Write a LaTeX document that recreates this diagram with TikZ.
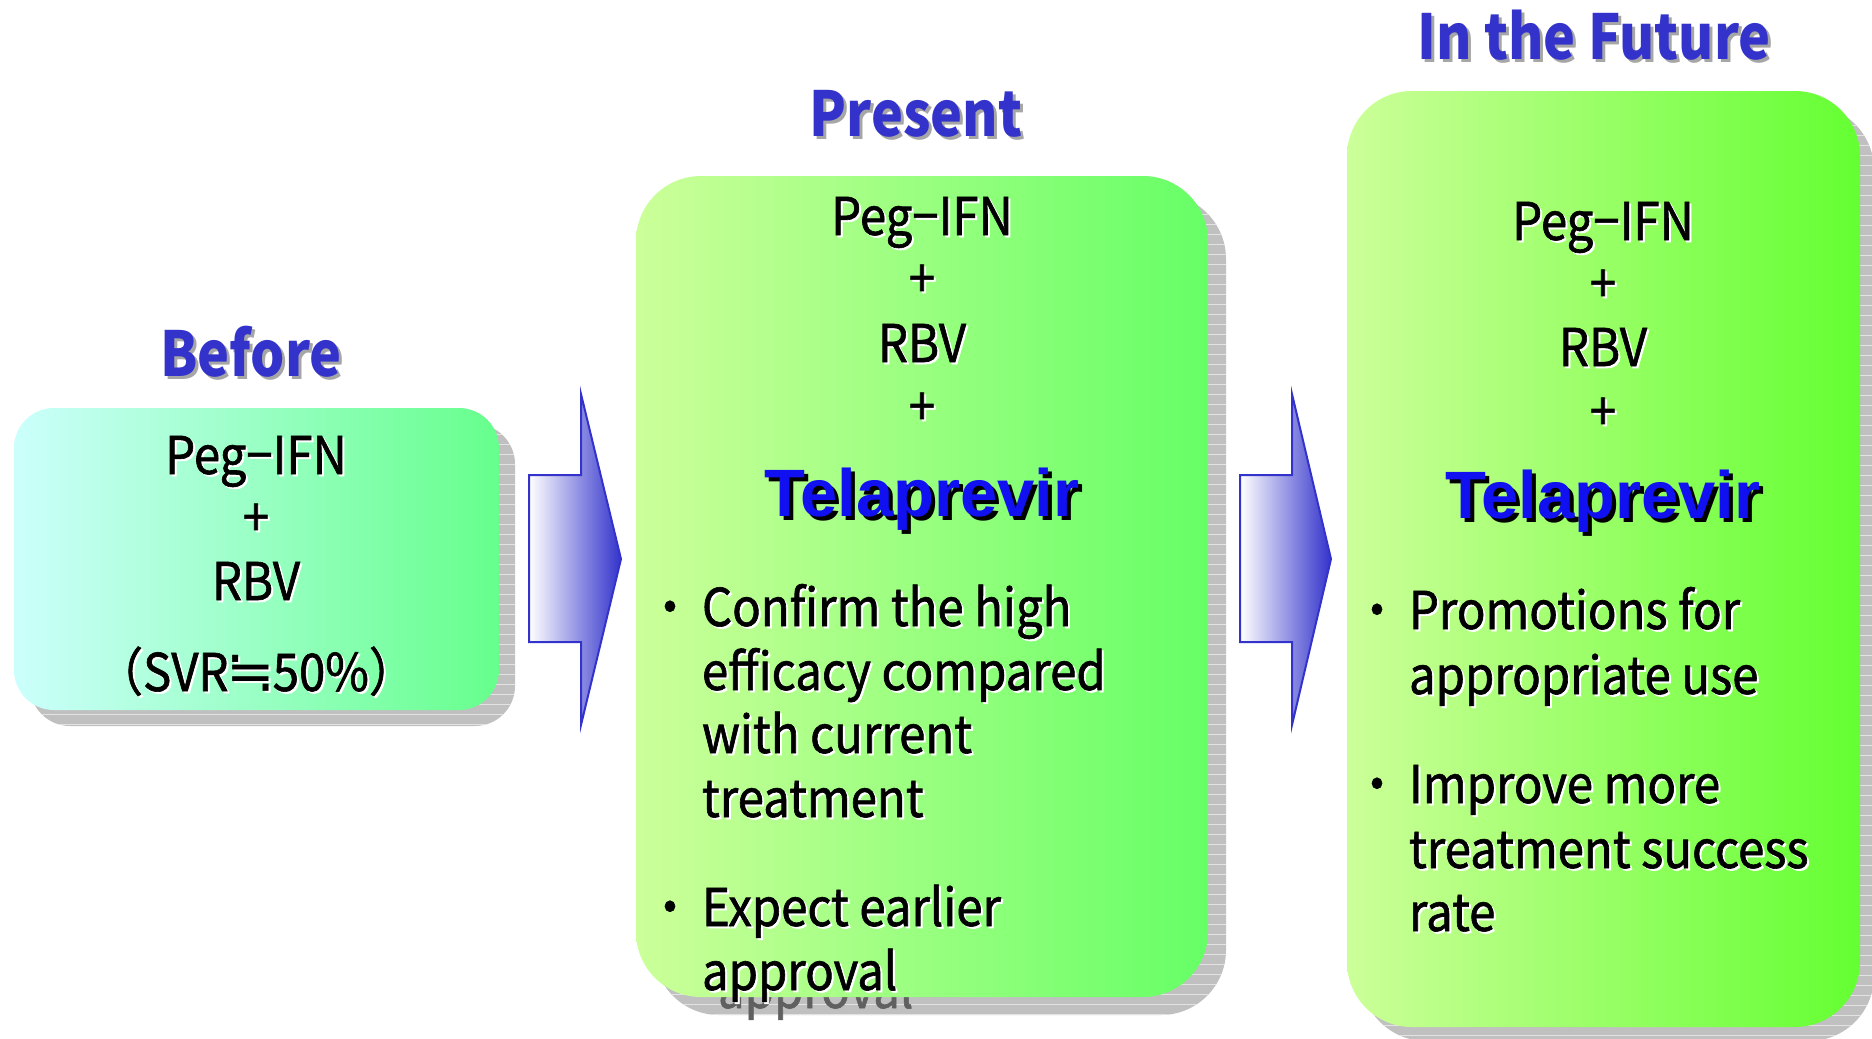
\documentclass[tikz,border=0pt]{standalone}
\usepackage{fontspec}
\setmainfont{Noto Sans CJK JP}
\newfontfamily\bodyfont{Noto Sans CJK JP}[FakeStretch=0.91,FakeBold=1.2]
\newfontfamily\titlefont{Noto Sans CJK JP}[FakeStretch=0.87]
\newfontfamily\arialfont{Liberation Sans}
\newfontfamily\symfont{DejaVu Sans}
\definecolor{titleblue}{RGB}{51,51,204}
\definecolor{telablue}{RGB}{16,16,240}
\definecolor{cyanL}{RGB}{204,255,252}
\definecolor{greenB}{RGB}{102,255,140}
\definecolor{limeL}{RGB}{204,255,153}
\definecolor{greenP}{RGB}{102,255,102}
\definecolor{greenF}{RGB}{100,255,50}
\definecolor{shadowgray}{RGB}{192,192,192}
\definecolor{arrowblue}{RGB}{51,51,204}
\newcommand\tsh[3]{\rlap{\kern#3\raisebox{-#3}{\color{#2}#1}}#1}
\newcommand\approxeqsym{\makebox[0.85em]{\symfont\fontsize{58}{62}\selectfont ≒}}
\begin{document}
\begin{tikzpicture}[x=1pt,y=-1pt,
  every node/.style={inner sep=0pt,outer sep=0pt},
  body/.style={font=\bodyfont\fontsize{52}{62}\selectfont, text=black, anchor=base},
  bodyl/.style={font=\bodyfont\fontsize{52}{62}\selectfont, text=black, anchor=base west},
  ttl/.style={font=\titlefont\bfseries\fontsize{62}{70}\selectfont, text=titleblue, anchor=base},
  tela/.style={font=\arialfont\bfseries\fontsize{67}{80}\selectfont, text=telablue, anchor=base},
  shad/.style={fill=shadowgray, draw=none,
    path picture={\foreach \k in {0,10,...,1000} \draw[white!55!shadowgray, line width=1pt] ([yshift=-\k pt]path picture bounding box.north west) -- ++(2000,0);}},
  arrowshape/.style={draw=arrowblue, line width=2pt, left color=white, right color=arrowblue, line join=miter}
]
\useasboundingbox (0,0) rectangle (1872,1039);
\clip (0,0) rectangle (1872,1039);

% ---------- Before ----------
\node[ttl] (t-before) at (251,376) {\tsh{Before}{gray!70}{3pt}};
\node[shad, rounded corners=40pt, minimum width=485pt, minimum height=302pt] (before-sh) at (272.5,575) {};
\node[rounded corners=40pt, minimum width=485pt, minimum height=302pt, left color=cyanL, right color=greenB] (before) at (256.5,559) {};
\node[body] (b1) at (256,474) {\tsh{Peg−IFN}{white}{2pt}};
\node[body] (b2) at (256,536) {\tsh{+}{white}{2pt}};
\node[body] (b3) at (256,600) {\tsh{RBV}{white}{2pt}};
\node[body] (b4) at (256,691) {\tsh{（SVR\approxeqsym 50\%）}{white}{2pt}};

% ---------- Arrow 1 ----------
\path[arrowshape] (529,475) -- (581,475) -- (581,394) -- (621,559) -- (581,725) -- (581,642) -- (529,642) -- cycle;

% ---------- Present ----------
\node[ttl] (t-present) at (916,136) {\tsh{Present}{gray!70}{3pt}};
\node[shad, rounded corners=65pt, minimum width=572pt, minimum height=821pt] (present-sh) at (940,604.5) {};
\node[body, text=gray!75!black] (p-ghost) at (718,1008) [anchor=base west] {approval};
\node[rounded corners=65pt, minimum width=572pt, minimum height=821pt, left color=limeL, right color=greenP] (present) at (922,586.5) {};
\node[body] (p1) at (922,235) {\tsh{Peg−IFN}{white}{2pt}};
\node[body] (p2) at (922,297) {\tsh{+}{white}{2pt}};
\node[body] (p3) at (922,362) {\tsh{RBV}{white}{2pt}};
\node[body] (p4) at (922,425) {\tsh{+}{white}{2pt}};
\node[tela] (p5) at (922,516) {\tsh{Telaprevir}{black}{4pt}};
\node[body] (pb1) at (670,626) {・};
\node[bodyl] (p6) at (702,626) {\tsh{Confirm the high}{white}{2pt}};
\node[bodyl] (p7) at (702,690) {\tsh{efficacy compared}{white}{2pt}};
\node[bodyl] (p8) at (702,753) {\tsh{with current}{white}{2pt}};
\node[bodyl] (p9) at (702,817) {\tsh{treatment}{white}{2pt}};
\node[body] (pb2) at (670,926) {・};
\node[bodyl] (p10) at (702,926) {\tsh{Expect earlier}{white}{2pt}};
\node[bodyl] (p11) at (702,990) {\tsh{approval}{white}{2pt}};

% ---------- Arrow 2 ----------
\path[arrowshape] (1240,475) -- (1292,475) -- (1292,394) -- (1331,559) -- (1292,725) -- (1292,642) -- (1240,642) -- cycle;

% ---------- In the Future ----------
\node[ttl] (t-future) at (1594,59) {\tsh{In the Future}{gray!70}{3pt}};
\node[shad, rounded corners=65pt, minimum width=513pt, minimum height=936pt] (future-sh) at (1617.5,573) {};
\node[rounded corners=65pt, minimum width=513pt, minimum height=936pt, left color=limeL, right color=greenF] (future) at (1603.5,559) {};
\node[body] (f1) at (1603,240) {\tsh{Peg−IFN}{white}{2pt}};
\node[body] (f2) at (1603,302) {\tsh{+}{white}{2pt}};
\node[body] (f3) at (1603,366) {\tsh{RBV}{white}{2pt}};
\node[body] (f4) at (1603,430) {\tsh{+}{white}{2pt}};
\node[tela] (f5) at (1603,518) {\tsh{Telaprevir}{black}{4pt}};
\node[body] (fb1) at (1377,629) {・};
\node[bodyl] (f6) at (1409,629) {\tsh{Promotions for}{white}{2pt}};
\node[bodyl] (f7) at (1409,694) {\tsh{appropriate use}{white}{2pt}};
\node[body] (fb2) at (1377,803) {・};
\node[bodyl] (f8) at (1409,803) {\tsh{Improve more}{white}{2pt}};
\node[bodyl] (f9) at (1409,868) {\tsh{treatment success}{white}{2pt}};
\node[bodyl] (f10) at (1409,931) {\tsh{rate}{white}{2pt}};
\end{tikzpicture}
\end{document}
